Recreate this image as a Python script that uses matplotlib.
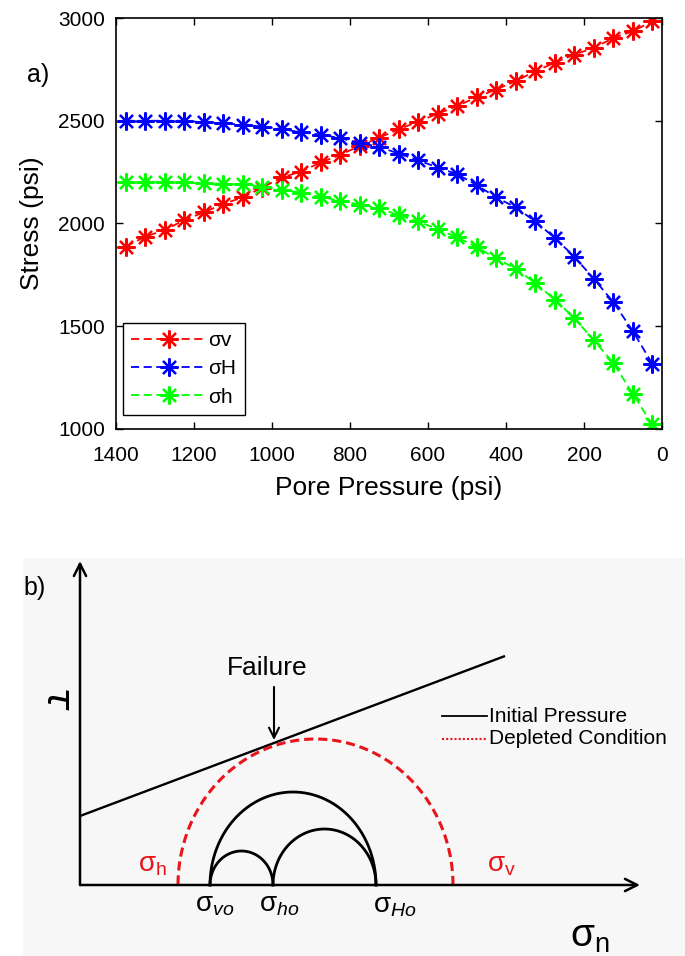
import numpy as np
import matplotlib
matplotlib.use('Agg')
import matplotlib.pyplot as plt
from matplotlib.patches import Rectangle

plt.rcParams['font.family'] = ['Liberation Sans', 'DejaVu Sans']
plt.rcParams['mathtext.fontset'] = 'custom'
plt.rcParams['mathtext.rm'] = 'Liberation Sans'
plt.rcParams['mathtext.it'] = 'Liberation Sans:italic'

# panel a) stresses vs pore pressure
pore_pressure = [1375, 1325, 1275, 1225, 1175, 1125, 1075, 1025, 975, 925,
                 875, 825, 775, 725, 675, 625, 575, 525, 475, 425,
                 375, 325, 275, 225, 175, 125, 75, 25]
sigma_v = [1888, 1936, 1968, 2017, 2054, 2095, 2127, 2175, 2224, 2253,
           2297, 2334, 2378, 2418, 2458, 2496, 2534, 2572, 2615, 2652,
           2693, 2741, 2782, 2822, 2854, 2903, 2935, 2984]
sigma_H = [2500, 2500, 2500, 2500, 2492, 2488, 2480, 2472, 2460, 2443,
           2433, 2415, 2392, 2373, 2340, 2308, 2272, 2240, 2187, 2127,
           2078, 2010, 1930, 1839, 1731, 1618, 1477, 1318]
sigma_h = [2200, 2200, 2200, 2200, 2195, 2193, 2190, 2180, 2165, 2150,
           2130, 2110, 2092, 2075, 2040, 2010, 1972, 1932, 1885, 1830,
           1780, 1710, 1630, 1540, 1432, 1322, 1172, 1022]
series_labels = ['σv', 'σH', 'σh']
series_colors = ['#ff0000', '#0000ff', '#00ff00']

# panel b) schematic Mohr circles (left, right, peak height)
initial_circles = [(130, 193, 34), (193, 296, 56), (130, 296, 93)]
depleted_circle = (98, 373, 146)
envelope_x = [0, 425]
envelope_y = [69, 229]

fig = plt.figure(figsize=(6.85, 9.56), dpi=100)

# ---------------- panel a ----------------
ax = fig.add_axes([116/685, 1 - 429/956, 546/685, 411/956])
for ys, lab, col in zip([sigma_v, sigma_H, sigma_h], series_labels, series_colors):
    ax.plot(pore_pressure, ys, color=col, linestyle=(0, (4.5, 2.5)), linewidth=1.3,
            marker=(8, 2, 0), markersize=13, markeredgewidth=1.6, label=lab)

ax.set_xlim(1400, 0)
ax.set_ylim(1000, 3000)
ax.set_xticks(range(0, 1401, 200))
ax.set_yticks(range(1000, 3001, 500))
ax.tick_params(direction='in', top=True, right=True, length=5, width=1, labelsize=15)
ax.tick_params(axis='x', pad=12)
ax.tick_params(axis='y', pad=8)
for sp in ax.spines.values():
    sp.set_linewidth(1.2)
ax.set_xlabel('Pore Pressure (psi)', fontsize=19, labelpad=8)
ax.set_ylabel('Stress (psi)', fontsize=19, labelpad=10)

leg = ax.legend(loc='lower left', bbox_to_anchor=(0.013, 0.034), borderaxespad=0,
                fontsize=15, handlelength=3.6, handletextpad=0.1, labelspacing=0.45,
                borderpad=0.4, fancybox=False, framealpha=1, edgecolor='black')
leg.get_frame().set_linewidth(1.0)

fig.text(38/685, 1 - 75/956, 'a)', fontsize=18, ha='center', va='center')

# ---------------- panel b ----------------
ax2 = fig.add_axes([0, 0, 1, 1 - 520/956])
ax2.set_xlim(-80, 605)
ax2.set_ylim(-71, 365)
ax2.axis('off')
ax2.add_patch(Rectangle((-57, -71), 662, 398, facecolor='#f7f7f7', edgecolor='none', zorder=0))

arrow_kw = dict(arrowstyle='->', lw=1.8, mutation_scale=22, shrinkA=0, shrinkB=0, color='black')
ax2.annotate('', xy=(0, 324), xytext=(0, 0), arrowprops=arrow_kw)
ax2.annotate('', xy=(560, 0), xytext=(0, 0), arrowprops=arrow_kw)

ax2.plot(envelope_x, envelope_y, color='black', lw=1.7, solid_capstyle='butt')

theta = np.linspace(0, np.pi, 300)
for left, right, h in initial_circles:
    c, r = (left + right) / 2, (right - left) / 2
    ax2.plot(c + r * np.cos(theta), h * np.sin(theta), color='black', lw=2.0)
left, right, h = depleted_circle
c, r = (left + right) / 2, (right - left) / 2
ax2.plot(c + r * np.cos(theta), h * np.sin(theta), color='#e8141b', lw=2.2,
         linestyle=(0, (3, 1.6)))

ax2.text(187, 217, 'Failure', fontsize=19, ha='center', va='center')
ax2.annotate('', xy=(194, 145), xytext=(194, 198),
             arrowprops=dict(arrowstyle='->', lw=1.5, mutation_scale=18,
                             shrinkA=0, shrinkB=0, color='black'))

ax2.plot([362, 407], [169, 169], color='black', lw=1.3)
ax2.text(409, 169, 'Initial Pressure', fontsize=15, ha='left', va='center')
ax2.plot([362, 407], [146, 146], color='#e8141b', lw=1.5, linestyle=(0, (1, 1)))
ax2.text(409, 146, 'Depleted Condition', fontsize=15, ha='left', va='center')

ax2.text(58, 20, r'$\mathrm{\sigma}_\mathrm{h}$', color='#e8141b', fontsize=20, ha='left', va='center')
ax2.text(407, 20, r'$\mathrm{\sigma}_\mathrm{v}$', color='#e8141b', fontsize=20, ha='left', va='center')
ax2.text(115, -20, r'$\mathrm{\sigma}_{vo}$', fontsize=20, ha='left', va='center')
ax2.text(179, -20, r'$\mathrm{\sigma}_{ho}$', fontsize=20, ha='left', va='center')
ax2.text(293, -21, r'$\mathrm{\sigma}_{Ho}$', fontsize=20, ha='left', va='center')
ax2.text(490, -52, r'$\mathrm{\sigma}_\mathrm{n}$', fontsize=28, ha='left', va='center')
ax2.text(-23, 187, r'$\tau$', fontsize=28, rotation=270, ha='center', va='center',
         math_fontfamily='dejavusans')
ax2.text(-45, 297, 'b)', fontsize=18, ha='center', va='center')

fig.savefig('out.png', dpi=100)
